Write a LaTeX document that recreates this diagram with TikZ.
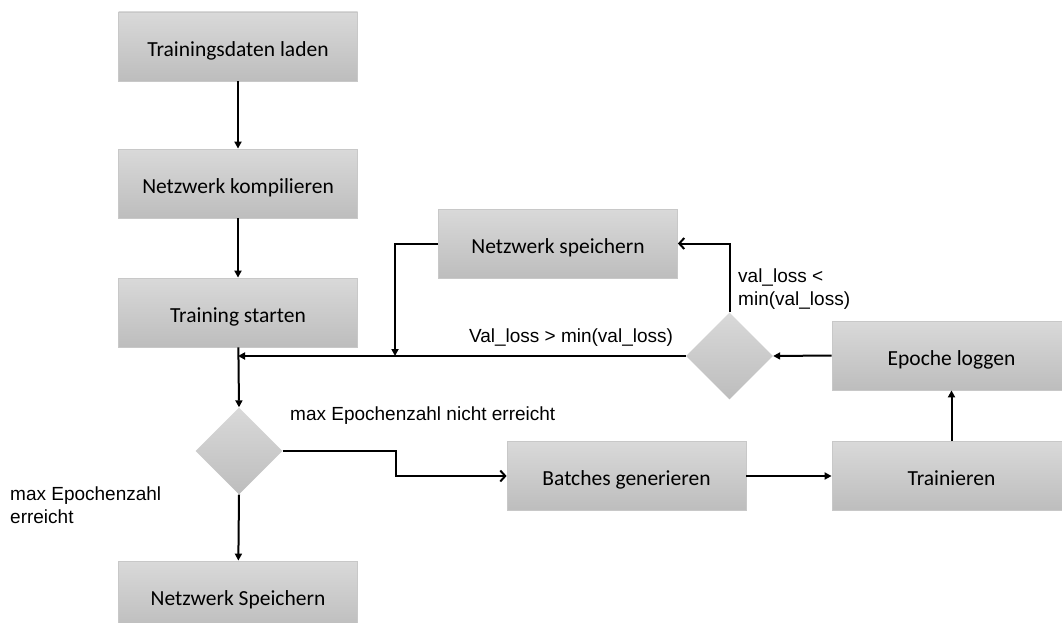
\documentclass[tikz,border=0pt]{standalone}
\usepackage{fontspec}
\setmainfont{Carlito}
\newfontfamily\labelfont{Liberation Sans}
\usetikzlibrary{shapes.geometric,arrows.meta}

\definecolor{boxtop}{RGB}{217,217,217}
\definecolor{boxbot}{RGB}{189,189,189}
\definecolor{boxedge}{RGB}{200,200,200}

\tikzset{
  procbox/.style={rectangle, minimum width=239pt, minimum height=69pt, inner sep=0pt,
    text height=24pt, text depth=4.5pt,
    top color=boxtop, bottom color=boxbot, draw=boxedge, line width=0.8pt,
    font=\fontsize{21.5}{25}\selectfont},
  decision/.style={diamond, aspect=1, minimum width=87pt, minimum height=87pt, inner sep=0pt,
    top color=boxtop, bottom color=boxbot, draw=none},
  conn/.style={line width=2pt, black},
  filledtip/.style={conn, -{Triangle[length=7pt,width=7pt]}},
  opentip/.style={conn, -{Straight Barb[length=5pt,width=11pt]}},
  cond/.style={font=\labelfont\fontsize{19}{22.5}\selectfont, inner sep=0pt, align=left},
}

\begin{document}
\begin{tikzpicture}[x=1pt,y=-1pt]
\clip (0,0) rectangle (1062,623);

% process steps
\node[procbox] (load)    at (238,46.5)   {Trainingsdaten laden};
\node[procbox] (compile) at (238,183.5)  {Netzwerk kompilieren};
\node[procbox] (start)   at (238,312.5)  {Training starten};
\node[decision] (epochs) at (239,451)    {};
\node[procbox] (final)   at (238,595.5)  {Netzwerk Speichern};
\node[procbox] (save)    at (558,243.5)  {Netzwerk speichern};
\node[decision] (check)  at (729.5,356)  {};
\node[procbox] (log)     at (951.5,355.5){Epoche loggen};
\node[procbox] (batches) at (626.5,476)  {Batches generieren};
\node[procbox] (train)   at (951.5,476)  {Trainieren};

% junction points of the loop
\coordinate (join)  at (238,356);
\coordinate (drop)  at (395,356);
\coordinate (bendA) at (396,451);
\coordinate (bendB) at (396,476);

% main sequence
\draw[filledtip] (load) -- (compile);
\draw[filledtip] (compile) -- (start);
\draw[filledtip] (start) -- (epochs.north);
\draw[filledtip] (epochs.south) -- (final);

% training loop
\draw[opentip] (epochs.east) -- (bendA) -- (bendB) -- (batches.west);
\draw[filledtip] (batches) -- (train);
\draw[filledtip] (train) -- (log);
\draw[filledtip] (log.west) -- (check.east);
\draw[filledtip] (check.west) -- (join);
\draw[opentip] (check.north) |- (save.east);
\draw[filledtip] (save.west) -| (drop);

% conditions
\node[cond, anchor=center] (gt) at (571,338) {Val\_loss > min(val\_loss)};
\node[cond, anchor=north west] (lt) at (738,269) {val\_loss <\\min(val\_loss)};
\node[cond, anchor=west] (notdone) at (290,416) {max Epochenzahl nicht erreicht};
\node[cond, anchor=north west] (done) at (10,487) {max Epochenzahl\\erreicht};
\end{tikzpicture}
\end{document}
